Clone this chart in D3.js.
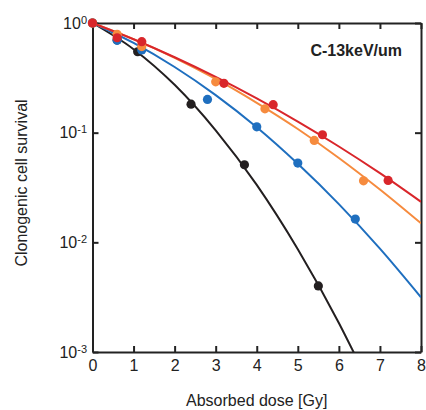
<!DOCTYPE html>
<html>
<head>
<meta charset="utf-8">
<script src="https://cdn.jsdelivr.net/npm/d3@7"></script>
<style>
  html, body { margin: 0; padding: 0; background: #fff; }
  svg { display: block; font-family: "Liberation Sans", Arial, sans-serif; }
  .axis path, .axis line { stroke: #222; stroke-width: 2; }
  .lbl { fill: #222; }
</style>
</head>
<body>
<svg id="chart" width="426" height="410"></svg>
<script>
// Survival curves (fitted lines) at integer doses
const curveDoses = [0, 1, 2, 3, 4, 5, 6, 7, 8]
const blackDoses = [0, 1, 2, 3, 4, 5, 6, 6.5]
const blackCurve = [1, 0.577, 0.273, 0.105, 0.0334, 0.00865, 0.00184, 0.00078]
const blueCurve = [1, 0.658, 0.397, 0.220, 0.112, 0.052, 0.0223, 0.00875, 0.00315]
const orangeCurve = [1, 0.713, 0.482, 0.309, 0.187, 0.108, 0.0588, 0.0303, 0.0149]
const redCurve = [1, 0.711, 0.487, 0.322, 0.205, 0.126, 0.0748, 0.0427, 0.0234]

// Measured points
const blackDose = [0, 0.6, 1.1, 2.4, 3.7, 5.5]
const blackSurv = [1, 0.70, 0.547, 0.182, 0.051, 0.0040]
const blueDose = [0, 0.6, 1.2, 2.8, 4.0, 5.0, 6.4]
const blueSurv = [1, 0.695, 0.567, 0.201, 0.113, 0.0528, 0.0163]
const orangeDose = [0, 0.6, 1.2, 3.0, 4.2, 5.4, 6.6]
const orangeSurv = [1, 0.79, 0.61, 0.291, 0.165, 0.085, 0.0364]
const redDose = [0, 0.6, 1.2, 3.2, 4.4, 5.6, 7.2]
const redSurv = [1, 0.734, 0.676, 0.282, 0.180, 0.0957, 0.0367]

const xTicks = [0, 1, 2, 3, 4, 5, 6, 7, 8]
const yTicks = [1, 0.1, 0.01, 0.001]
const yTickExps = ["0", "-1", "-2", "-3"]

const series = [
  { color: "#231f20", doses: blackDoses, curve: blackCurve, dose: blackDose, surv: blackSurv },
  { color: "#1f6fbf", doses: curveDoses, curve: blueCurve, dose: blueDose, surv: blueSurv },
  { color: "#f68b3e", doses: curveDoses, curve: orangeCurve, dose: orangeDose, surv: orangeSurv },
  { color: "#d9262b", doses: curveDoses, curve: redCurve, dose: redDose, surv: redSurv }
]

const plotL = 92.5, plotR = 421, plotT = 23, plotB = 352
const svg = d3.select("#chart")

const x = d3.scaleLinear().domain([0, 8]).range([plotL, plotR])
const y = d3.scaleLog().domain([0.001, 1]).range([plotB, plotT])

svg.append("defs").append("clipPath").attr("id", "plot")
  .append("rect").attr("x", plotL).attr("y", plotT)
  .attr("width", plotR - plotL).attr("height", plotB - plotT)

// frame + inward ticks
svg.append("g").attr("class", "axis")
  .attr("transform", `translate(0,${plotB})`)
  .call(d3.axisBottom(x).tickValues(xTicks).tickSizeInner(-6).tickSizeOuter(0))
  .call(g => g.selectAll("text").attr("class", "lbl").style("font-size", "16px")
    .attr("dy", null).attr("y", 18.7))
  .attr("font-family", null).attr("font-size", null)

svg.append("g").attr("class", "axis")
  .attr("transform", `translate(0,${plotT})`)
  .call(d3.axisTop(x).tickValues(xTicks).tickSizeInner(-6).tickSizeOuter(0).tickFormat(""))

svg.append("g").attr("class", "axis")
  .attr("transform", `translate(${plotR},0)`)
  .call(d3.axisRight(y).tickValues(yTicks).tickSizeInner(-6).tickSizeOuter(0).tickFormat(""))

const yAxis = svg.append("g").attr("class", "axis")
  .attr("transform", `translate(${plotL},0)`)
  .call(d3.axisLeft(y).tickValues(yTicks).tickSizeInner(-6).tickSizeOuter(0).tickFormat(""))
  .attr("font-family", null).attr("font-size", null)

yAxis.selectAll(".tick text").remove()
yAxis.selectAll(".tick").each(function (d) {
  const t = d3.select(this).append("text")
    .attr("class", "lbl")
    .attr("x", -5.5).attr("y", 5)
    .attr("text-anchor", "end")
    .style("font-size", "16px")
  t.append("tspan").text("10")
  t.append("tspan").attr("dy", -5).style("font-size", "11px").text(yTickExps[yTicks.indexOf(d)])
})

// curves
const line = d3.line()
  .x(d => x(d[0]))
  .y(d => y(d[1]))
  .curve(d3.curveMonotoneX)

const curves = svg.append("g").attr("clip-path", "url(#plot)")
series.forEach(s => {
  curves.append("path")
    .datum(s.doses.map((v, i) => [v, s.curve[i]]))
    .attr("d", line)
    .attr("fill", "none")
    .attr("stroke", s.color)
    .attr("stroke-width", 2)
})

// points
series.forEach(s => {
  svg.append("g").selectAll("circle")
    .data(s.dose.map((v, i) => [v, s.surv[i]]))
    .join("circle")
    .attr("cx", d => x(d[0]))
    .attr("cy", d => y(d[1]))
    .attr("r", 4.6)
    .attr("fill", s.color)
})

svg.append("text").attr("class", "lbl")
  .attr("x", 402).attr("y", 56)
  .attr("text-anchor", "end")
  .style("font-size", "16px").style("font-weight", "bold")
  .text("C-13keV/um")

svg.append("text").attr("class", "lbl")
  .attr("x", (plotL + plotR) / 2).attr("y", 406)
  .attr("text-anchor", "middle")
  .style("font-size", "16px")
  .text("Absorbed dose [Gy]")

svg.append("text").attr("class", "lbl")
  .attr("transform", "translate(27,183) rotate(-90)")
  .attr("text-anchor", "middle")
  .style("font-size", "16px")
  .text("Clonogenic cell survival")
</script>
</body>
</html>
